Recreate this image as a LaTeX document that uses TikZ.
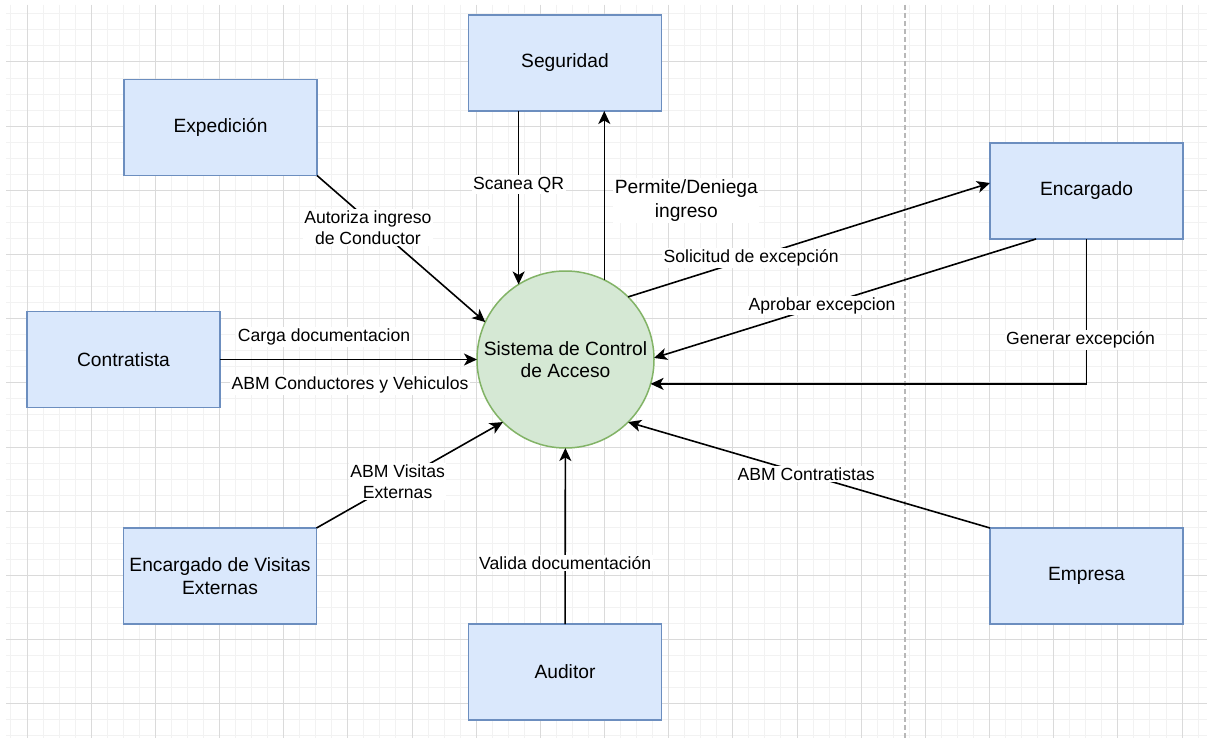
\documentclass[tikz,border=0pt]{standalone}
\usepackage{fontspec}
\setmainfont{Liberation Sans}
\usetikzlibrary{arrows.meta,calc}
\definecolor{boxfill}{HTML}{DAE8FC}
\definecolor{boxline}{HTML}{6C8EBF}
\definecolor{sysfill}{HTML}{D5E8D4}
\definecolor{sysline}{HTML}{82B366}
\definecolor{gridminor}{HTML}{F2F2F2}
\definecolor{gridmajor}{HTML}{DADADA}
\definecolor{sepline}{HTML}{B8B8B8}

\begin{document}
\begin{tikzpicture}[x=1pt,y=-1pt,
  actor/.style={draw=boxline, fill=boxfill, line width=1.5pt, minimum width=193pt,
    minimum height=96pt, inner sep=0pt, outer sep=0pt, align=center,
    font=\fontsize{19.2}{22.5}\selectfont},
  proc/.style={circle, draw=sysline, fill=sysfill, line width=1.5pt, minimum size=177pt,
    inner sep=0pt, outer sep=0pt, align=center, font=\fontsize{19.2}{21.5}\selectfont},
  flow/.style={line width=1.6pt, -{Stealth[length=13pt,width=12pt,inset=3.5pt]}},
  lbl/.style={fill=white, inner sep=1.5pt, align=center, font=\fontsize{17.6}{21}\selectfont},
  biglbl/.style={lbl, font=\fontsize{19.2}{24}\selectfont},
  minorline/.style={draw=gridminor, line width=1pt},
  majorline/.style={draw=gridmajor, line width=1pt},
]
\useasboundingbox (0,0) rectangle (1207,738);
\fill[white] (0,0) rectangle (1207,738);

% background grid: fine lines every 16 px, stronger lines every 64 px
\foreach \i in {0,...,74} {
  \pgfmathsetmacro\gx{10.96+16.042*\i}
  \draw[minorline] (\gx,5) -- (\gx,738);
}
\foreach \j in {-3,...,42} {
  \pgfmathsetmacro\gy{62+16.042*\j}
  \draw[minorline] (6,\gy) -- (1207,\gy);
}
\foreach \i in {0,...,18} {
  \pgfmathsetmacro\gx{27+64.17*\i}
  \draw[majorline] (\gx,5) -- (\gx,738);
}
\foreach \j in {0,...,10} {
  \pgfmathsetmacro\gy{62+64.17*\j}
  \draw[majorline] (6,\gy) -- (1207,\gy);
}

% dashed divider
\draw[sepline, line width=1.2pt, dash pattern=on 5pt off 3pt] (905,5) -- (905,738);

% central process
\node[proc] (sys) at (565.5,359.5) {Sistema de Control\\de Acceso};

% external entities
\node[actor] (seg) at (565,63)     {Seguridad};
\node[actor] (exp) at (220.5,127.5) {Expedición};
\node[actor] (enc) at (1086.5,191) {Encargado};
\node[actor] (con) at (123.5,359.5) {Contratista};
\node[actor] (vis) at (220,576)    {Encargado de Visitas\\Externas};
\node[actor] (aud) at (565,672)    {Auditor};
\node[actor] (emp) at (1086.5,576) {Empresa};

% data flows
\draw[flow] (seg.south -| sys.122) -- (sys.122)
  node[lbl, pos=0.425] {Scanea QR};
\draw[flow] (sys.64) -- (sys.64 |- seg.south)
  node[biglbl, pos=0.47, xshift=82pt] {Permite/Deniega\\ingreso};
\draw[flow] (exp.south east) -- (sys.155)
  node[lbl, pos=0.32, xshift=-3pt, yshift=-5pt] {Autoriza ingreso\\de Conductor};
\draw[flow] (con) -- (sys)
  node[lbl, pos=0.405, yshift=22.5pt] {Carga documentacion}
  node[lbl, pos=0.506, yshift=-25.5pt] {ABM Conductores y Vehiculos};
\draw[flow] (vis.north east) -- (sys.225)
  node[lbl, pos=0.435] {ABM Visitas\\Externas};
\draw[flow] (aud) -- (sys)
  node[lbl, pos=0.347] {Valida documentación};
\draw[flow] (emp.north west) -- (sys.315)
  node[lbl, pos=0.508] {ABM Contratistas};
\draw[flow] (sys.45) -- ([yshift=8pt]enc.west)
  node[lbl, pos=0.34] {Solicitud de excepción};
\draw[flow] ([xshift=-50.5pt]enc.south) -- (sys.1)
  node[lbl, pos=0.56] {Aprobar excepcion};
\draw[flow] (enc.south) |- (sys.-16)
  node[lbl, pos=0.348, xshift=-6pt] {Generar excepción};
\end{tikzpicture}
\end{document}
